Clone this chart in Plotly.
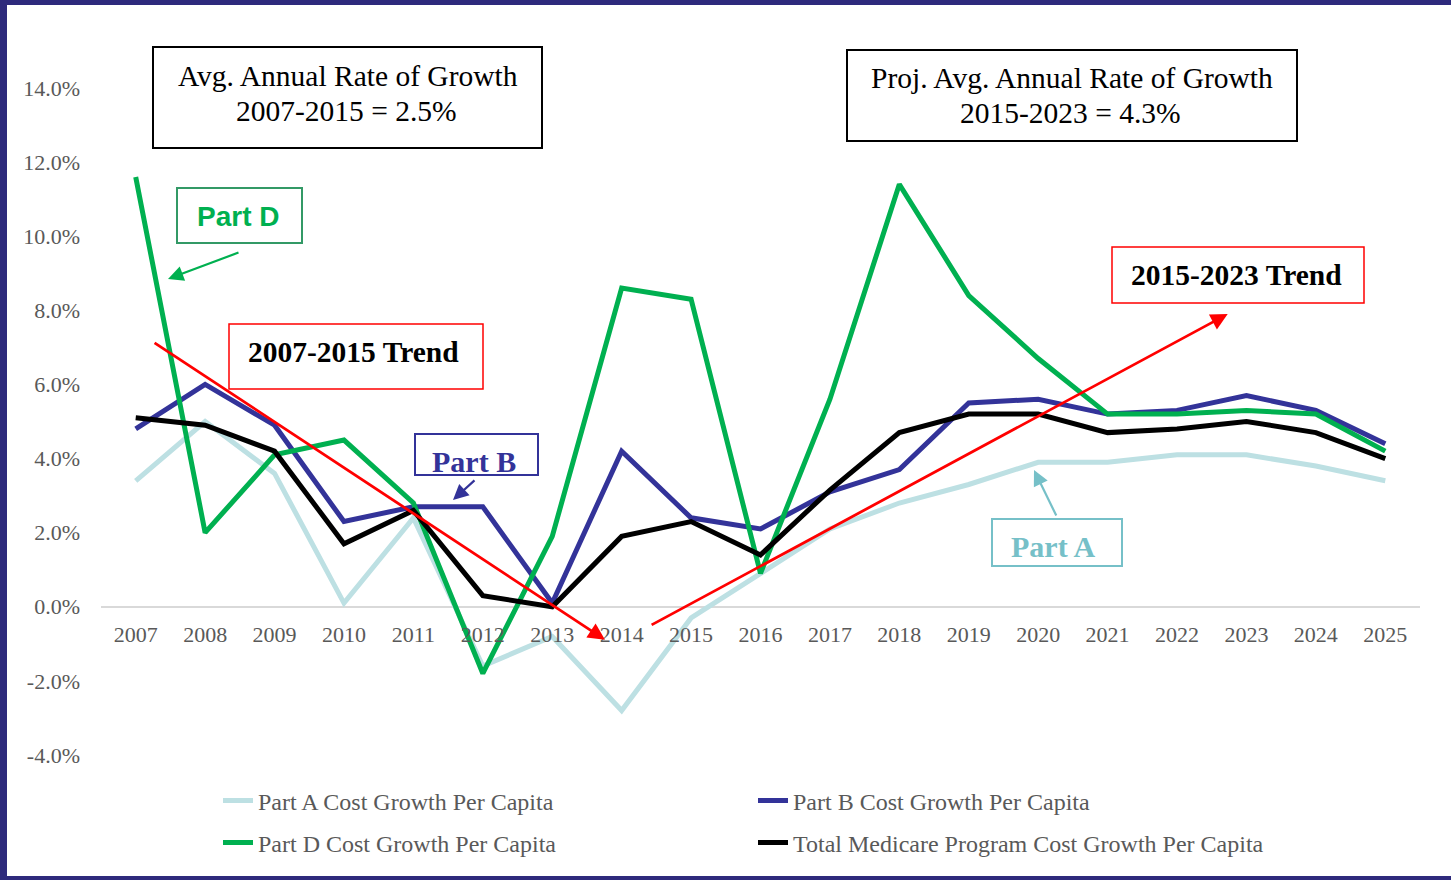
import plotly.graph_objects as go

years = list(range(2007, 2026))
part_a = [3.4, 5.0, 3.6, 0.1, 2.4, -1.6, -0.8, -2.8, -0.3, 0.9, 2.1, 2.8, 3.3, 3.9, 3.9, 4.1, 4.1, 3.8, 3.4]
part_b = [4.8, 6.0, 4.9, 2.3, 2.7, 2.7, 0.1, 4.2, 2.4, 2.1, 3.1, 3.7, 5.5, 5.6, 5.2, 5.3, 5.7, 5.3, 4.4]
part_d = [11.6, 2.0, 4.1, 4.5, 2.8, -1.8, 1.9, 8.6, 8.3, 0.9, 5.6, 11.4, 8.4, 6.7, 5.2, 5.2, 5.3, 5.2, 4.2]
total = [5.1, 4.9, 4.2, 1.7, 2.6, 0.3, 0.0, 1.9, 2.3, 1.4, 3.15, 4.7, 5.2, 5.2, 4.7, 4.8, 5.0, 4.7, 4.0]

series_names = ["Part A Cost Growth Per Capita", "Part B Cost Growth Per Capita",
                "Part D Cost Growth Per Capita", "Total Medicare Program Cost Growth Per Capita"]
series_colors = ["#BDE0E3", "#333399", "#00B050", "#000000"]

# trend arrows (tail year, tail value, head year, head value)
trend1 = [2007.25, 7.15, 2013.76, -0.89]
trend2 = [2014.41, -0.51, 2022.73, 7.9]

y_ticks = [-4, -2, 0, 2, 4, 6, 8, 10, 12, 14]

W, H = 1451, 880
L, R, T, B = 101, 31, 88, 125
PW, PH = W - L - R, H - T - B


def px_x(px):
    return (px - L) / PW


def px_y(py):
    return (H - B - py) / PH


SERIF = "Liberation Serif, Times New Roman, serif"
SANS = "Liberation Sans, Arial, sans-serif"

fig = go.Figure()
legend_ids = ["legend", "legend", "legend2", "legend2"]
for vals, name, col, lg in zip([part_a, part_b, part_d, total], series_names, series_colors, legend_ids):
    fig.add_trace(go.Scatter(x=years, y=vals, mode="lines", name=name,
                             line=dict(color=col, width=5), legend=lg))

ann = []
shapes = []


def rect(x0, y0, x1, y1, color, width=2):
    shapes.append(dict(type="rect", xref="paper", yref="paper", x0=px_x(x0), x1=px_x(x1),
                       y0=px_y(y1), y1=px_y(y0), fillcolor="white",
                       line=dict(color=color, width=width), layer="above"))


def label(cx, cy, text, color, size, family, bold=False):
    t = f"<b>{text}</b>" if bold else text
    ann.append(dict(xref="paper", yref="paper", x=px_x(cx), y=px_y(cy), xanchor="center",
                    yanchor="middle", text=t, showarrow=False,
                    font=dict(family=family, size=size, color=color)))


rect(153, 47, 542, 148, "#000000")
label(347.5, 76, "Avg. Annual Rate of Growth", "#000000", 29.5, SERIF)
label(346.5, 111, "2007-2015 = 2.5%", "#000000", 29.5, SERIF)

rect(847, 50, 1297, 141, "#000000")
label(1071.5, 78, "Proj. Avg. Annual Rate of Growth", "#000000", 29.5, SERIF)
label(1070, 113, "2015-2023 = 4.3%", "#000000", 29.5, SERIF)

rect(177, 188, 302, 243, "#339966")
label(237.5, 216, "Part D", "#00B050", 28, SANS, bold=True)

rect(229, 324, 483, 389, "#FF0000", 1.5)
label(353.5, 352, "2007-2015 Trend", "#000000", 29.5, SERIF, bold=True)

rect(415, 434, 538, 475, "#333399")
label(474, 461, "Part B", "#333399", 30, SERIF, bold=True)

rect(992, 519, 1122, 566, "#76C0C8")
label(1053, 546, "Part A", "#76C0C8", 30, SERIF, bold=True)

rect(1112, 247, 1364, 303, "#FF0000", 1.5)
label(1236, 275, "2015-2023 Trend", "#000000", 29.5, SERIF, bold=True)


def arrow_px(hx, hy, tx, ty, color, width=2.2):
    ann.append(dict(xref="paper", yref="paper", x=px_x(hx), y=px_y(hy), ax=tx - hx, ay=ty - hy,
                    axref="pixel", ayref="pixel", text="", showarrow=True, arrowhead=2,
                    arrowsize=1.4, arrowwidth=width, arrowcolor=color))


arrow_px(168, 279, 240, 252, "#00B050")
arrow_px(453, 500, 476, 479, "#333399")
arrow_px(1034, 470, 1057, 517, "#76C0C8")

for tr in (trend1, trend2):
    ann.append(dict(xref="x", yref="y", x=tr[2], y=tr[3], axref="x", ayref="y", ax=tr[0], ay=tr[1],
                    text="", showarrow=True, arrowhead=2, arrowsize=1.2, arrowwidth=2.8,
                    arrowcolor="#FF0000"))

navy = "#2E2A7C"
for x0, y0, x1, y1 in [(-2, -2, 7, 882), (-2, -2, 1453, 5), (-2, 876, 1453, 882)]:
    shapes.append(dict(type="rect", xref="paper", yref="paper", x0=px_x(x0), x1=px_x(x1),
                       y0=px_y(y1), y1=px_y(y0), fillcolor=navy, line=dict(width=0), layer="above"))

fig.update_layout(
    width=W, height=H,
    margin=dict(l=L, r=R, t=T, b=B, autoexpand=False),
    paper_bgcolor="white", plot_bgcolor="white",
    font=dict(family=SERIF, size=22, color="#595959"),
    xaxis=dict(range=[2006.5, 2025.5], tickvals=years, ticktext=[str(y) for y in years],
               showgrid=False, showline=False, zeroline=False, anchor="free",
               position=px_y(607), ticks="", ticklabelstandoff=12,
               tickfont=dict(family=SERIF, size=22, color="#595959")),
    yaxis=dict(range=[-4, 14], tickvals=y_ticks, ticktext=[f"{v:.1f}%" for v in y_ticks],
               showgrid=False, showline=False, zeroline=True, zerolinecolor="#D9D9D9",
               zerolinewidth=1.5, ticks="", ticklabelstandoff=20,
               tickfont=dict(family=SERIF, size=22, color="#595959")),
    legend=dict(orientation="h", x=px_x(218), y=px_y(801), xanchor="left", yanchor="middle",
                entrywidth=490, entrywidthmode="pixels", bgcolor="rgba(0,0,0,0)",
                font=dict(family=SERIF, size=24, color="#595959"), itemclick=False),
    legend2=dict(orientation="h", x=px_x(218), y=px_y(843), xanchor="left", yanchor="middle",
                 entrywidth=490, entrywidthmode="pixels", bgcolor="rgba(0,0,0,0)",
                 font=dict(family=SERIF, size=24, color="#595959"), itemclick=False),
    annotations=ann,
    shapes=shapes,
    showlegend=True,
)

fig.write_html("out.html", config={"displayModeBar": False},
               post_script="document.body.style.margin='0';document.body.style.overflow='hidden';")
